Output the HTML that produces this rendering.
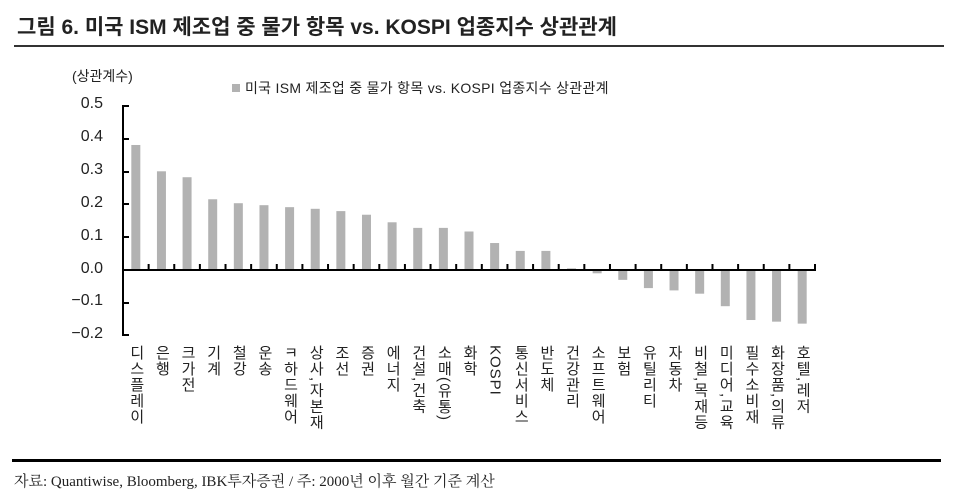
<!DOCTYPE html>
<html><head><meta charset="utf-8"><style>
body{margin:0;width:959px;height:497px;background:#fff;overflow:hidden;position:relative;font-family:"Liberation Sans","Noto Sans CJK KR",sans-serif;color:#222}
.t{position:absolute;left:17px;top:11px;font-size:21px;font-weight:bold;letter-spacing:0px}
.hl{position:absolute;left:14px;width:930px;height:2px;background:#333}
.v{position:absolute;top:345px;writing-mode:vertical-rl;font-size:15px;line-height:16px;letter-spacing:1px;transform:translateX(-50%);color:#222;white-space:nowrap}
.y{position:absolute;width:60px;text-align:right;left:43px;font-size:16px}
</style></head><body>
<div class="t">그림 6. 미국 ISM 제조업 중 물가 항목 vs. KOSPI 업종지수 상관관계</div>
<div class="hl" style="top:45px"></div>
<div style="position:absolute;left:72px;top:66px;font-size:14px">(상관계수)</div>
<div style="position:absolute;left:232px;top:84px;width:8px;height:8px;background:#b2b2b2"></div>
<div style="position:absolute;left:245px;top:78px;font-size:14px;letter-spacing:0.3px">미국 ISM 제조업 중 물가 항목 vs. KOSPI 업종지수 상관관계</div>
<div class="y" style="top:95px">0.5</div>
<div class="y" style="top:128px">0.4</div>
<div class="y" style="top:161px">0.3</div>
<div class="y" style="top:194px">0.2</div>
<div class="y" style="top:227px">0.1</div>
<div class="y" style="top:260px">0.0</div>
<div class="y" style="top:292px">−0.1</div>
<div class="y" style="top:325px">−0.2</div>
<svg width="959" height="497" style="position:absolute;left:0;top:0">
<g fill="#b2b2b2" id="bars"></g>
<g stroke="#000" stroke-width="2">
<line x1="123" y1="105" x2="123" y2="336"/>
<line x1="122" y1="270" x2="816" y2="270"/>
<path d="M123 106h6M123 139h6M123 172h6M123 204h6M123 237h6M123 303h6M123 335h6" />
</g>
<g stroke="#000" stroke-width="2" id="ticks"></g>
</svg>
<div id="labs"></div>
<div class="hl" style="top:459px;left:12px;width:929px;height:3px;background:#000"></div>
<div style="position:absolute;left:14px;top:470px;font-family:'Liberation Serif','Noto Serif CJK SC',serif;font-size:15px">자료: Quantiwise, Bloomberg, IBK투자증권 / 주: 2000년 이후 월간 기준 계산</div>
<script>
var v=[0.38,0.30,0.282,0.215,0.203,0.197,0.191,0.186,0.179,0.168,0.145,0.128,0.128,0.117,0.082,0.058,0.058,0.005,-0.01,-0.03,-0.055,-0.062,-0.072,-0.11,-0.152,-0.157,-0.163];
var L=["디스플레이","은행","크가전","기계","철강","운송","ㅋ하드웨어","상사,자본재","조선","증권","에너지","건설,건축","소매(유통)","화학","KOSPI","통신서비스","반도체","건강관리","소프트웨어","보험","유틸리티","자동차","비철,목재등","미디어,교육","필수소비재","화장품,의류","호텔,레저"];
var b="",t="",h="",w=692/27,s=329;
for(var i=0;i<27;i++){var c=123+w*(i+0.5),y=270-v[i]*s;
b+='<rect x="'+(c-4.5)+'" y="'+Math.min(y,270)+'" width="9" height="'+Math.abs(270-y)+'"/>';
var x=123+w*(i+1);t+='<line x1="'+x+'" y1="264" x2="'+x+'" y2="270"/>';
h+='<div class="v" style="left:'+c+'px">'+L[i]+'</div>';}
document.getElementById('bars').innerHTML=b;document.getElementById('ticks').innerHTML=t;document.getElementById('labs').innerHTML=h;
</script>
</body></html>
